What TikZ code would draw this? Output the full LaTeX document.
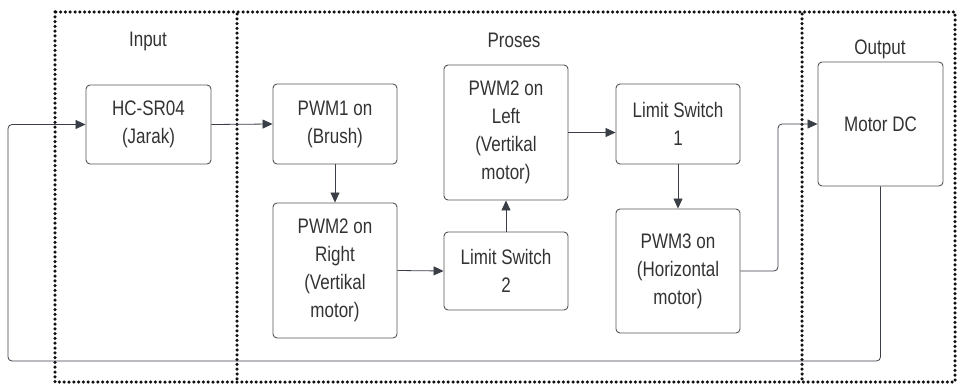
\documentclass[tikz,border=0pt]{standalone}
\usepackage{fontspec}
\setmainfont[FakeStretch=0.81]{Liberation Sans}
\usetikzlibrary{arrows.meta}
\definecolor{txt}{HTML}{333333}
\definecolor{boxc}{HTML}{555555}
\definecolor{arrc}{HTML}{3A3F47}
\definecolor{dotc}{HTML}{111111}
\tikzset{
  blk/.style={draw=boxc, line width=0.9pt, rounded corners=4pt, align=center,
    text=txt, font=\fontsize{21pt}{28pt}\selectfont, inner sep=0pt},
  lbl/.style={text=txt, font=\fontsize{21pt}{24pt}\selectfont, inner sep=0pt},
  arr/.style={draw=arrc, line width=0.8pt, -{Triangle[length=10pt,width=9pt]}},
  dotline/.style={draw=dotc, line width=3.5pt, line cap=round, dash pattern=on 0pt off 4.8pt},
}
\begin{document}
\begin{tikzpicture}[x=1pt,y=-1pt]
\useasboundingbox (0,0) rectangle (958,385);
% dotted regions
\draw[dotline] (55,12) rectangle (955,382);
\draw[dotline] (237,14) -- (237,380);
\draw[dotline] (802,14) -- (802,380);
% labels
\node[lbl] (lin) at (148,41) {Input};
\node[lbl] (lpr) at (514,40) {Proses};
\node[lbl] (lout) at (880,49) {Output};
% blocks
\node[blk, minimum width=125pt, minimum height=79pt] (hc) at (148.5,124.5) {HC-SR04\\(Jarak)};
\node[blk, minimum width=124pt, minimum height=80pt] (pwm1) at (335,124) {PWM1 on\\(Brush)};
\node[blk, minimum width=124pt, minimum height=135pt] (pwmR) at (335,270.5) {PWM2 on\\Right\\(Vertikal\\motor)};
\node[blk, minimum width=124pt, minimum height=78pt] (ls2) at (506,271) {Limit Switch\\2};
\node[blk, minimum width=124pt, minimum height=135pt] (pwmL) at (506,132.5) {PWM2 on\\Left\\(Vertikal\\motor)};
\node[blk, minimum width=124pt, minimum height=80pt] (ls1) at (678,124) {Limit Switch\\1};
\node[blk, minimum width=124pt, minimum height=124pt] (pwm3) at (678,271) {PWM3 on\\(Horizontal\\motor)};
\node[blk, minimum width=125pt, minimum height=124pt] (motor) at (880.5,124) {Motor DC};
% connectors
\draw[arr] (hc.east) -- (pwm1.west);
\draw[arr] (pwm1.south) -- (pwmR.north);
\draw[arr] (pwmR.east) -- (ls2.west);
\draw[arr] (ls2.north) -- (pwmL.south);
\draw[arr] (pwmL.east) -- (ls1.west |- pwmL.east);
\draw[arr] (ls1.south) -- (pwm3.north);
\coordinate (bendR) at (778,200);
\draw[arr, rounded corners=4pt] (pwm3.east) -| (bendR) |- (motor.west);
\coordinate (fbL) at (8,361);
\draw[arr, rounded corners=4pt] (motor.south) |- (fbL) |- (hc.west);
\end{tikzpicture}
\end{document}
